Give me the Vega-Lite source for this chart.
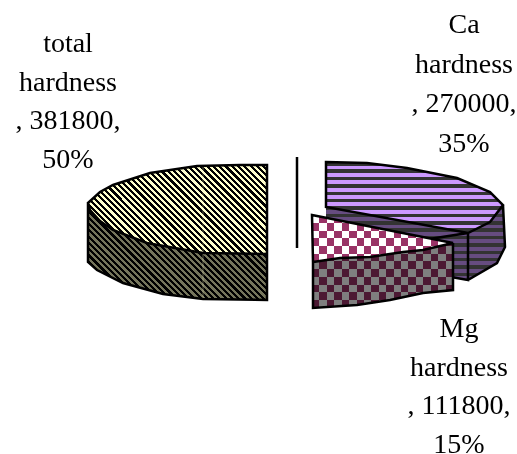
{"$schema":"https://vega.github.io/schema/vega-lite/v6.json","width":517,"height":454,"padding":0,"autosize":"none","background":"#ffffff","view":{"stroke":null},
"data":{"values":[
{"slice":"total hardness","value":381800,"share":"50%","label":"total\nhardness\n, 381800,\n50%"},
{"slice":"Ca hardness","value":270000,"share":"35%","label":"Ca\nhardness\n, 270000,\n35%"},
{"slice":"Mg hardness","value":111800,"share":"15%","label":"Mg\nhardness\n, 111800,\n15%"}]},
"resolve":{"scale":{"shape":"independent","fill":"independent"}},
"layer":[
{"transform":[{"filter":"datum.slice !== 'Mg hardness'"}],"mark":{"type":"point","filled":true,"size":4,"opacity":1},
"encoding":{"shape":{"field":"slice","type":"nominal","legend":null,"scale":{"domain":["total hardness","Ca hardness"],"range":["M-170.5 -24L-170.5 35L-161.5 43L-135.5 56L-95.5 67L-55.5 72L8.5 73L8.5 27L-55.5 26L-111.5 16L-145.5 3L-158.5 -6L-168.5 -17Z","M67.5 -20L209.5 6L209.5 53L67.5 28ZM209.5 6L244.5 -22L246.5 20L238.5 36L209.5 53Z"]}},
"fill":{"field":"slice","type":"nominal","legend":null,"scale":{"domain":["total hardness","Ca hardness"],"range":["#75755c","#664c80"]}}}},
{"transform":[{"filter":"datum.slice !== 'Mg hardness'"}],"mark":{"type":"point","filled":true,"size":4,"opacity":1},
"encoding":{"shape":{"field":"slice","type":"nominal","legend":null,"scale":{"domain":["total hardness","Ca hardness"],"range":["M8.5 -62L-18.5 -62L-61.5 -61L-108.5 -54L-145.5 -42L-158.5 -35L-170.5 -24L-168.5 -17L-158.5 -6L-145.5 3L-111.5 16L-55.5 26L8.5 27Z","M67.5 -65L108.5 -64L148.5 -59L198.5 -49L231.5 -35L244.5 -22L231.5 -5L209.5 6L67.5 -20Z"]}},
"fill":{"field":"slice","type":"nominal","legend":null,"scale":{"domain":["total hardness","Ca hardness"],"range":["#ffffcc","#cc99ff"]}}}},
{"transform":[{"filter":"datum.slice === 'total hardness'"}],"mark":{"type":"point","filled":true,"size":4,"opacity":1,"shape":"M8.5 -62L-18.5 -62L-61.5 -61L-108.5 -54L-145.5 -42L-158.5 -35L-170.5 -24L-170.5 35L-161.5 43L-135.5 56L-95.5 67L-55.5 72L8.5 73Z",
"fill":{"gradient":"linear","x1":0,"y1":1,"x2":1.118,"y2":0.157,"stops":[
{"offset":0,"color":"#000"},{"offset":0.01,"color":"#000"},{"offset":0.01,"color":"#0000"},{"offset":0.02,"color":"#0000"},
{"offset":0.02,"color":"#000"},{"offset":0.03,"color":"#000"},{"offset":0.03,"color":"#0000"},{"offset":0.04,"color":"#0000"},
{"offset":0.04,"color":"#000"},{"offset":0.05,"color":"#000"},{"offset":0.05,"color":"#0000"},{"offset":0.06,"color":"#0000"},
{"offset":0.06,"color":"#000"},{"offset":0.07,"color":"#000"},{"offset":0.07,"color":"#0000"},{"offset":0.08,"color":"#0000"},
{"offset":0.08,"color":"#000"},{"offset":0.09,"color":"#000"},{"offset":0.09,"color":"#0000"},{"offset":0.10,"color":"#0000"},
{"offset":0.10,"color":"#000"},{"offset":0.11,"color":"#000"},{"offset":0.11,"color":"#0000"},{"offset":0.12,"color":"#0000"},
{"offset":0.12,"color":"#000"},{"offset":0.13,"color":"#000"},{"offset":0.13,"color":"#0000"},{"offset":0.14,"color":"#0000"},
{"offset":0.14,"color":"#000"},{"offset":0.15,"color":"#000"},{"offset":0.15,"color":"#0000"},{"offset":0.16,"color":"#0000"},
{"offset":0.16,"color":"#000"},{"offset":0.17,"color":"#000"},{"offset":0.17,"color":"#0000"},{"offset":0.18,"color":"#0000"},
{"offset":0.18,"color":"#000"},{"offset":0.19,"color":"#000"},{"offset":0.19,"color":"#0000"},{"offset":0.20,"color":"#0000"},
{"offset":0.20,"color":"#000"},{"offset":0.21,"color":"#000"},{"offset":0.21,"color":"#0000"},{"offset":0.22,"color":"#0000"},
{"offset":0.22,"color":"#000"},{"offset":0.23,"color":"#000"},{"offset":0.23,"color":"#0000"},{"offset":0.24,"color":"#0000"},
{"offset":0.24,"color":"#000"},{"offset":0.25,"color":"#000"},{"offset":0.25,"color":"#0000"},{"offset":0.26,"color":"#0000"},
{"offset":0.26,"color":"#000"},{"offset":0.27,"color":"#000"},{"offset":0.27,"color":"#0000"},{"offset":0.28,"color":"#0000"},
{"offset":0.28,"color":"#000"},{"offset":0.29,"color":"#000"},{"offset":0.29,"color":"#0000"},{"offset":0.30,"color":"#0000"},
{"offset":0.30,"color":"#000"},{"offset":0.31,"color":"#000"},{"offset":0.31,"color":"#0000"},{"offset":0.32,"color":"#0000"},
{"offset":0.32,"color":"#000"},{"offset":0.33,"color":"#000"},{"offset":0.33,"color":"#0000"},{"offset":0.34,"color":"#0000"},
{"offset":0.34,"color":"#000"},{"offset":0.35,"color":"#000"},{"offset":0.35,"color":"#0000"},{"offset":0.36,"color":"#0000"},
{"offset":0.36,"color":"#000"},{"offset":0.37,"color":"#000"},{"offset":0.37,"color":"#0000"},{"offset":0.38,"color":"#0000"},
{"offset":0.38,"color":"#000"},{"offset":0.39,"color":"#000"},{"offset":0.39,"color":"#0000"},{"offset":0.40,"color":"#0000"},
{"offset":0.40,"color":"#000"},{"offset":0.41,"color":"#000"},{"offset":0.41,"color":"#0000"},{"offset":0.42,"color":"#0000"},
{"offset":0.42,"color":"#000"},{"offset":0.43,"color":"#000"},{"offset":0.43,"color":"#0000"},{"offset":0.44,"color":"#0000"},
{"offset":0.44,"color":"#000"},{"offset":0.45,"color":"#000"},{"offset":0.45,"color":"#0000"},{"offset":0.46,"color":"#0000"},
{"offset":0.46,"color":"#000"},{"offset":0.47,"color":"#000"},{"offset":0.47,"color":"#0000"},{"offset":0.48,"color":"#0000"},
{"offset":0.48,"color":"#000"},{"offset":0.49,"color":"#000"},{"offset":0.49,"color":"#0000"},{"offset":0.50,"color":"#0000"},
{"offset":0.50,"color":"#000"},{"offset":0.51,"color":"#000"},{"offset":0.51,"color":"#0000"},{"offset":0.52,"color":"#0000"},
{"offset":0.52,"color":"#000"},{"offset":0.53,"color":"#000"},{"offset":0.53,"color":"#0000"},{"offset":0.54,"color":"#0000"},
{"offset":0.54,"color":"#000"},{"offset":0.55,"color":"#000"},{"offset":0.55,"color":"#0000"},{"offset":0.56,"color":"#0000"},
{"offset":0.56,"color":"#000"},{"offset":0.57,"color":"#000"},{"offset":0.57,"color":"#0000"},{"offset":0.58,"color":"#0000"},
{"offset":0.58,"color":"#000"},{"offset":0.59,"color":"#000"},{"offset":0.59,"color":"#0000"},{"offset":0.60,"color":"#0000"},
{"offset":0.60,"color":"#000"},{"offset":0.61,"color":"#000"},{"offset":0.61,"color":"#0000"},{"offset":0.62,"color":"#0000"},
{"offset":0.62,"color":"#000"},{"offset":0.63,"color":"#000"},{"offset":0.63,"color":"#0000"},{"offset":0.64,"color":"#0000"},
{"offset":0.64,"color":"#000"},{"offset":0.65,"color":"#000"},{"offset":0.65,"color":"#0000"},{"offset":0.66,"color":"#0000"},
{"offset":0.66,"color":"#000"},{"offset":0.67,"color":"#000"},{"offset":0.67,"color":"#0000"},{"offset":0.68,"color":"#0000"},
{"offset":0.68,"color":"#000"},{"offset":0.69,"color":"#000"},{"offset":0.69,"color":"#0000"},{"offset":0.70,"color":"#0000"},
{"offset":0.70,"color":"#000"},{"offset":0.71,"color":"#000"},{"offset":0.71,"color":"#0000"},{"offset":0.72,"color":"#0000"},
{"offset":0.72,"color":"#000"},{"offset":0.73,"color":"#000"},{"offset":0.73,"color":"#0000"},{"offset":0.74,"color":"#0000"},
{"offset":0.74,"color":"#000"},{"offset":0.75,"color":"#000"},{"offset":0.75,"color":"#0000"},{"offset":0.76,"color":"#0000"},
{"offset":0.76,"color":"#000"},{"offset":0.77,"color":"#000"},{"offset":0.77,"color":"#0000"},{"offset":0.78,"color":"#0000"},
{"offset":0.78,"color":"#000"},{"offset":0.79,"color":"#000"},{"offset":0.79,"color":"#0000"},{"offset":0.80,"color":"#0000"},
{"offset":0.80,"color":"#000"},{"offset":0.81,"color":"#000"},{"offset":0.81,"color":"#0000"},{"offset":0.82,"color":"#0000"},
{"offset":0.82,"color":"#000"},{"offset":0.83,"color":"#000"},{"offset":0.83,"color":"#0000"},{"offset":0.84,"color":"#0000"},
{"offset":0.84,"color":"#000"},{"offset":0.85,"color":"#000"},{"offset":0.85,"color":"#0000"},{"offset":0.86,"color":"#0000"},
{"offset":0.86,"color":"#000"},{"offset":0.87,"color":"#000"},{"offset":0.87,"color":"#0000"},{"offset":0.88,"color":"#0000"},
{"offset":0.88,"color":"#000"},{"offset":0.89,"color":"#000"},{"offset":0.89,"color":"#0000"},{"offset":0.90,"color":"#0000"},
{"offset":0.90,"color":"#000"},{"offset":0.91,"color":"#000"},{"offset":0.91,"color":"#0000"},{"offset":0.92,"color":"#0000"},
{"offset":0.92,"color":"#000"},{"offset":0.93,"color":"#000"},{"offset":0.93,"color":"#0000"},{"offset":0.94,"color":"#0000"},
{"offset":0.94,"color":"#000"},{"offset":0.95,"color":"#000"},{"offset":0.95,"color":"#0000"},{"offset":0.96,"color":"#0000"},
{"offset":0.96,"color":"#000"},{"offset":0.97,"color":"#000"},{"offset":0.97,"color":"#0000"},{"offset":0.98,"color":"#0000"},
{"offset":0.98,"color":"#000"},{"offset":0.99,"color":"#000"},{"offset":0.99,"color":"#0000"},{"offset":1,"color":"#0000"}]}},"encoding":{}},
{"transform":[{"filter":"datum.slice === 'total hardness'"}],"mark":{"type":"point","filled":false,"size":4,"opacity":0.35,"stroke":"#ffffcc","strokeWidth":1,"shape":"M-55.5 -61L-55.5 72"},"encoding":{}},
{"transform":[{"filter":"datum.slice === 'Ca hardness'"}],"mark":{"type":"point","filled":true,"size":4,"opacity":1,"shape":"M67.5 -65L108.5 -64L148.5 -59L198.5 -49L231.5 -35L244.5 -22L246.5 20L238.5 36L209.5 53L67.5 28Z",
"fill":{"gradient":"linear","x1":0,"y1":0,"x2":0,"y2":1,"stops":[
{"offset":0,"color":"#333"},{"offset":0.03,"color":"#333"},{"offset":0.03,"color":"#3330"},{"offset":0.0625,"color":"#3330"},
{"offset":0.0625,"color":"#333"},{"offset":0.0925,"color":"#333"},{"offset":0.0925,"color":"#3330"},{"offset":0.125,"color":"#3330"},
{"offset":0.125,"color":"#333"},{"offset":0.155,"color":"#333"},{"offset":0.155,"color":"#3330"},{"offset":0.1875,"color":"#3330"},
{"offset":0.1875,"color":"#333"},{"offset":0.2175,"color":"#333"},{"offset":0.2175,"color":"#3330"},{"offset":0.25,"color":"#3330"},
{"offset":0.25,"color":"#333"},{"offset":0.28,"color":"#333"},{"offset":0.28,"color":"#3330"},{"offset":0.3125,"color":"#3330"},
{"offset":0.3125,"color":"#333"},{"offset":0.3425,"color":"#333"},{"offset":0.3425,"color":"#3330"},{"offset":0.375,"color":"#3330"},
{"offset":0.375,"color":"#333"},{"offset":0.405,"color":"#333"},{"offset":0.405,"color":"#3330"},{"offset":0.4375,"color":"#3330"},
{"offset":0.4375,"color":"#333"},{"offset":0.4675,"color":"#333"},{"offset":0.4675,"color":"#3330"},{"offset":0.5,"color":"#3330"},
{"offset":0.5,"color":"#333"},{"offset":0.53,"color":"#333"},{"offset":0.53,"color":"#3330"},{"offset":0.5625,"color":"#3330"},
{"offset":0.5625,"color":"#333"},{"offset":0.5925,"color":"#333"},{"offset":0.5925,"color":"#3330"},{"offset":0.625,"color":"#3330"},
{"offset":0.625,"color":"#333"},{"offset":0.655,"color":"#333"},{"offset":0.655,"color":"#3330"},{"offset":0.6875,"color":"#3330"},
{"offset":0.6875,"color":"#333"},{"offset":0.7175,"color":"#333"},{"offset":0.7175,"color":"#3330"},{"offset":0.75,"color":"#3330"},
{"offset":0.75,"color":"#333"},{"offset":0.78,"color":"#333"},{"offset":0.78,"color":"#3330"},{"offset":0.8125,"color":"#3330"},
{"offset":0.8125,"color":"#333"},{"offset":0.8425,"color":"#333"},{"offset":0.8425,"color":"#3330"},{"offset":0.875,"color":"#3330"},
{"offset":0.875,"color":"#333"},{"offset":0.905,"color":"#333"},{"offset":0.905,"color":"#3330"},{"offset":0.9375,"color":"#3330"},
{"offset":0.9375,"color":"#333"},{"offset":0.9675,"color":"#333"},{"offset":0.9675,"color":"#3330"},{"offset":1,"color":"#3330"}]}},"encoding":{}},
{"transform":[{"filter":"datum.slice !== 'Mg hardness'"}],"mark":{"type":"point","filled":false,"size":4,"opacity":1,"stroke":"#000","strokeWidth":2.5},
"encoding":{"shape":{"field":"slice","type":"nominal","legend":null,"scale":{"domain":["total hardness","Ca hardness"],"range":["M8.5 -62L-18.5 -62L-61.5 -61L-108.5 -54L-145.5 -42L-158.5 -35L-170.5 -24L-168.5 -17L-158.5 -6L-145.5 3L-111.5 16L-55.5 26L8.5 27ZM-170.5 -24L-170.5 35L-161.5 43L-135.5 56L-95.5 67L-55.5 72L8.5 73L8.5 27","M67.5 -65L108.5 -64L148.5 -59L198.5 -49L231.5 -35L244.5 -22L231.5 -5L209.5 6L67.5 -20ZM209.5 6L209.5 53L67.5 28ZM244.5 -22L246.5 20L238.5 36L209.5 53"]}}}},
{"transform":[{"filter":"datum.slice === 'Mg hardness'"}],"mark":{"type":"point","filled":true,"size":4,"opacity":1,"shape":"M53.5 -12L194.5 16L194.5 63L164.5 66L131.5 73L98.5 78L54.5 81L54.5 35Z",
"fill":{"gradient":"linear","x1":0,"y1":0,"x2":0,"y2":1,"stops":[
{"offset":0,"color":"#fff"},{"offset":0.0833,"color":"#fff"},{"offset":0.0833,"color":"#000"},{"offset":0.1667,"color":"#000"},
{"offset":0.1667,"color":"#fff"},{"offset":0.25,"color":"#fff"},{"offset":0.25,"color":"#000"},{"offset":0.3333,"color":"#000"},
{"offset":0.3333,"color":"#fff"},{"offset":0.4167,"color":"#fff"},{"offset":0.4167,"color":"#000"},{"offset":0.5,"color":"#000"},
{"offset":0.5,"color":"#fff"},{"offset":0.5833,"color":"#fff"},{"offset":0.5833,"color":"#000"},{"offset":0.6667,"color":"#000"},
{"offset":0.6667,"color":"#fff"},{"offset":0.75,"color":"#fff"},{"offset":0.75,"color":"#000"},{"offset":0.8333,"color":"#000"},
{"offset":0.8333,"color":"#fff"},{"offset":0.9167,"color":"#fff"},{"offset":0.9167,"color":"#000"},{"offset":1,"color":"#000"}]}},"encoding":{}},
{"transform":[{"filter":"datum.slice === 'Mg hardness'"}],"mark":{"type":"point","filled":true,"size":4,"opacity":1,"blend":"difference","shape":"M53.5 -12L194.5 16L194.5 63L164.5 66L131.5 73L98.5 78L54.5 81L54.5 35Z",
"fill":{"gradient":"linear","x1":0,"y1":0,"x2":1,"y2":0,"stops":[
{"offset":0,"color":"#fff0"},{"offset":0.0526,"color":"#fff0"},{"offset":0.0526,"color":"#fff"},{"offset":0.1053,"color":"#fff"},
{"offset":0.1053,"color":"#fff0"},{"offset":0.1579,"color":"#fff0"},{"offset":0.1579,"color":"#fff"},{"offset":0.2105,"color":"#fff"},
{"offset":0.2105,"color":"#fff0"},{"offset":0.2632,"color":"#fff0"},{"offset":0.2632,"color":"#fff"},{"offset":0.3158,"color":"#fff"},
{"offset":0.3158,"color":"#fff0"},{"offset":0.3684,"color":"#fff0"},{"offset":0.3684,"color":"#fff"},{"offset":0.4211,"color":"#fff"},
{"offset":0.4211,"color":"#fff0"},{"offset":0.4737,"color":"#fff0"},{"offset":0.4737,"color":"#fff"},{"offset":0.5263,"color":"#fff"},
{"offset":0.5263,"color":"#fff0"},{"offset":0.5789,"color":"#fff0"},{"offset":0.5789,"color":"#fff"},{"offset":0.6316,"color":"#fff"},
{"offset":0.6316,"color":"#fff0"},{"offset":0.6842,"color":"#fff0"},{"offset":0.6842,"color":"#fff"},{"offset":0.7368,"color":"#fff"},
{"offset":0.7368,"color":"#fff0"},{"offset":0.7895,"color":"#fff0"},{"offset":0.7895,"color":"#fff"},{"offset":0.8421,"color":"#fff"},
{"offset":0.8421,"color":"#fff0"},{"offset":0.8947,"color":"#fff0"},{"offset":0.8947,"color":"#fff"},{"offset":0.9474,"color":"#fff"},
{"offset":0.9474,"color":"#fff0"},{"offset":1,"color":"#fff0"}]}},"encoding":{}},
{"transform":[{"filter":"datum.slice === 'Mg hardness'"}],"mark":{"type":"point","filled":true,"size":4,"opacity":1,"blend":"lighten","fill":"#993366","shape":"M53.5 -12L194.5 16L194.5 63L164.5 66L131.5 73L98.5 78L54.5 81L54.5 35Z"},"encoding":{}},
{"transform":[{"filter":"datum.slice === 'Mg hardness'"}],"mark":{"type":"point","filled":true,"size":4,"opacity":0.5,"fill":"#000","shape":"M54.5 35L54.5 81L98.5 78L131.5 73L164.5 66L194.5 63L194.5 16L164.5 23L144.5 25L111.5 30L81.5 31Z"},"encoding":{}},
{"transform":[{"filter":"datum.slice === 'Mg hardness'"}],"mark":{"type":"point","filled":false,"size":4,"opacity":1,"stroke":"#000","strokeWidth":2.5,"shape":"M53.5 -12L194.5 16L164.5 23L144.5 25L111.5 30L81.5 31L54.5 35ZM54.5 35L54.5 81L98.5 78L131.5 73L164.5 66L194.5 63L194.5 16"},"encoding":{}},
{"transform":[{"filter":"datum.slice === 'total hardness'"}],"mark":{"type":"point","filled":false,"size":4,"opacity":1,"stroke":"#000","strokeWidth":2.5,"shape":"M38.5 -70L38.5 21"},"encoding":{}},
{"transform":[{"filter":"datum.slice === 'total hardness'"}],"mark":{"type":"text","font":"Liberation Serif","fontSize":28,"lineBreak":"\n","lineHeight":38.7,"align":"center","baseline":"alphabetic","dx":-190.5,"dy":-175,"fill":"#000"},"encoding":{"text":{"field":"label"}}},
{"transform":[{"filter":"datum.slice === 'Ca hardness'"}],"mark":{"type":"text","font":"Liberation Serif","fontSize":28,"lineBreak":"\n","lineHeight":39.7,"align":"center","baseline":"alphabetic","dx":205.5,"dy":-194,"fill":"#000"},"encoding":{"text":{"field":"label"}}},
{"transform":[{"filter":"datum.slice === 'Mg hardness'"}],"mark":{"type":"text","font":"Liberation Serif","fontSize":28,"lineBreak":"\n","lineHeight":38.7,"align":"center","baseline":"alphabetic","dx":200.5,"dy":110,"fill":"#000"},"encoding":{"text":{"field":"label"}}}
]}
